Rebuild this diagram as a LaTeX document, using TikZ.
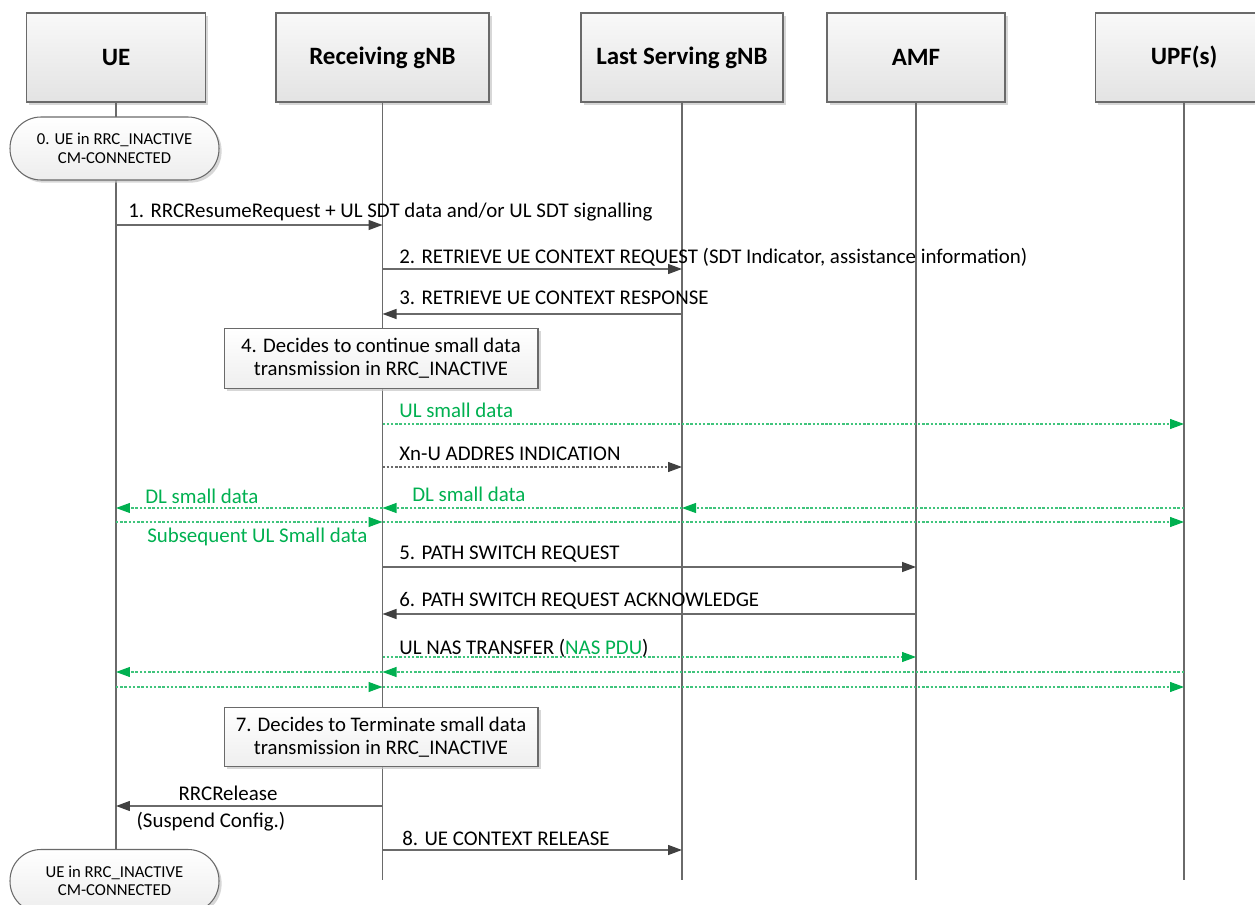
\documentclass[tikz,border=0pt]{standalone}
\usepackage{fontspec}
\setmainfont{Carlito}
\usetikzlibrary{arrows.meta,shadows}
\definecolor{grn}{HTML}{00B050}
\definecolor{lnc}{HTML}{6A6A6A}
\definecolor{tipc}{HTML}{404040}
\begin{document}
\begin{tikzpicture}[x=0.02cm,y=-0.02cm,
  shd/.style={drop shadow={shadow xshift=1.5pt,shadow yshift=-1.5pt,fill=gray!45,opacity=0.7}},
  hdr/.style={draw=lnc,line width=0.6pt,top color=gray!5,bottom color=gray!22,shd,
    minimum height=1.78cm,font=\bfseries\fontsize{14.2}{16}\selectfont,inner sep=0pt},
  state/.style={draw=lnc,line width=0.6pt,top color=white,bottom color=gray!14,shd,
    rounded corners=0.62cm,minimum width=4.18cm,minimum height=1.26cm,align=center,
    font=\fontsize{9.5}{10.5}\selectfont,inner sep=0pt},
  note/.style={draw=lnc,line width=0.6pt,top color=white,bottom color=gray!13,shd,
    minimum width=6.28cm,minimum height=1.19cm,align=center,
    font=\fontsize{11.8}{13.2}\selectfont,inner sep=0pt},
  life/.style={draw=lnc,line width=0.6pt},
  lbl/.style={anchor=base west,inner sep=0pt,font=\fontsize{11.9}{13}\selectfont},
  glbl/.style={lbl,text=grn},
  msg/.style={draw=lnc,line width=0.75pt,-{Triangle[length=0.28cm,width=0.2cm,color=tipc]}},
  dmsg/.style={draw=lnc,line width=0.6pt,dash pattern=on 1.4pt off 1pt,-{Triangle[length=0.28cm,width=0.2cm,color=tipc]}},
  gmsg/.style={draw=grn!75,line width=0.6pt,dash pattern=on 1.4pt off 1pt,-{Triangle[length=0.28cm,width=0.2cm,color=grn]}}
]
\useasboundingbox (0,0) rectangle (1255,905);

% headers
\node[hdr,minimum width=3.58cm] (UE) at (116,57.5) {UE};
\node[hdr,minimum width=4.26cm] (GNB) at (382.5,57.5) {Receiving gNB};
\node[hdr,minimum width=4.04cm] (LS) at (682,57.5) {Last Serving gNB};
\node[hdr,minimum width=3.56cm] (AMF) at (916,57.5) {AMF};
\node[hdr,minimum width=3.56cm] (UPF) at (1184,57.5) {UPF(s)};

% lifeline ends
\coordinate (yend) at (0,880);
\draw[life] (UE.south) -- (UE |- yend);
\draw[life] (GNB.south) -- (GNB |- yend);
\draw[life] (LS.south) -- (LS |- yend);
\draw[life] (AMF.south) -- (AMF |- yend);
\draw[life] (UPF.south) -- (UPF |- yend);

% states
\node[state] (s0) at (114.5,148.5) {0. UE in RRC\_INACTIVE\\CM-CONNECTED};
\node[state] (s9) at (114.5,881) {UE in RRC\_INACTIVE\\CM-CONNECTED};

% rows
\coordinate (r1) at (0,225);
\coordinate (r2) at (0,269);
\coordinate (r3) at (0,314);
\coordinate (r4) at (0,424);
\coordinate (r5) at (0,467);
\coordinate (r6) at (0,508);
\coordinate (r7) at (0,522);
\coordinate (r8) at (0,567);
\coordinate (r9) at (0,614);
\coordinate (r10) at (0,657);
\coordinate (r11) at (0,672);
\coordinate (r12) at (0,687);
\coordinate (r13) at (0,806);
\coordinate (r14) at (0,850);

% 1
\draw[msg] (UE |- r1) -- (GNB |- r1);
\node[lbl] (l1) at (128,218) {1. RRCResumeRequest + UL SDT data and/or UL SDT signalling};
% 2
\draw[msg] (GNB |- r2) -- (LS |- r2);
\node[lbl] (l2) at (399,264) {2. RETRIEVE UE CONTEXT REQUEST (SDT Indicator, assistance information)};
% 3
\draw[msg] (LS |- r3) -- (GNB |- r3);
\node[lbl] (l3) at (399,305) {3. RETRIEVE UE CONTEXT RESPONSE};
% 4
\node[note] (n4) at (381,358.5) {4. Decides to continue small data\\transmission in RRC\_INACTIVE};
% UL small data
\draw[gmsg] (GNB |- r4) -- (UPF |- r4);
\node[glbl] (l4) at (399,418) {UL small data};
% Xn-U
\draw[dmsg] (GNB |- r5) -- (LS |- r5);
\node[lbl] (l5) at (399,461) {Xn-U ADDRES INDICATION};
% DL small data
\draw[gmsg] (UPF |- r6) -- (LS |- r6);
\draw[gmsg] (LS |- r6) -- (GNB |- r6);
\draw[gmsg] (GNB |- r6) -- (UE |- r6);
\node[glbl] (l6a) at (145,504) {DL small data};
\node[glbl] (l6b) at (412,501) {DL small data};
% Subsequent UL
\draw[gmsg] (UE |- r7) -- (GNB |- r7);
\draw[gmsg] (GNB |- r7) -- (UPF |- r7);
\node[glbl] (l7) at (147,542) {Subsequent UL Small data};
% 5
\draw[msg] (GNB |- r8) -- (AMF |- r8);
\node[lbl] (l8) at (399,560) {5. PATH SWITCH REQUEST};
% 6
\draw[msg] (AMF |- r9) -- (GNB |- r9);
\node[lbl] (l9) at (399,606) {6. PATH SWITCH REQUEST ACKNOWLEDGE};
% UL NAS
\draw[gmsg] (GNB |- r10) -- (AMF |- r10);
\node[lbl] (l10) at (399,654) {UL NAS TRANSFER (\textcolor{grn}{NAS PDU})};
% DL again
\draw[gmsg] (UPF |- r11) -- (GNB |- r11);
\draw[gmsg] (GNB |- r11) -- (UE |- r11);
% UL again
\draw[gmsg] (UE |- r12) -- (GNB |- r12);
\draw[gmsg] (GNB |- r12) -- (UPF |- r12);
% 7
\node[note] (n7) at (381,737) {7. Decides to Terminate small data\\transmission in RRC\_INACTIVE};
% RRCRelease
\draw[msg] (GNB |- r13) -- (UE |- r13);
\node[lbl,anchor=base] (l13a) at (228,800) {RRCRelease};
\node[lbl,anchor=base] (l13b) at (211,827) {(Suspend Config.)};
% 8
\draw[msg] (GNB |- r14) -- (LS |- r14);
\node[lbl] (l14) at (402,845) {8. UE CONTEXT RELEASE};
\end{tikzpicture}
\end{document}
